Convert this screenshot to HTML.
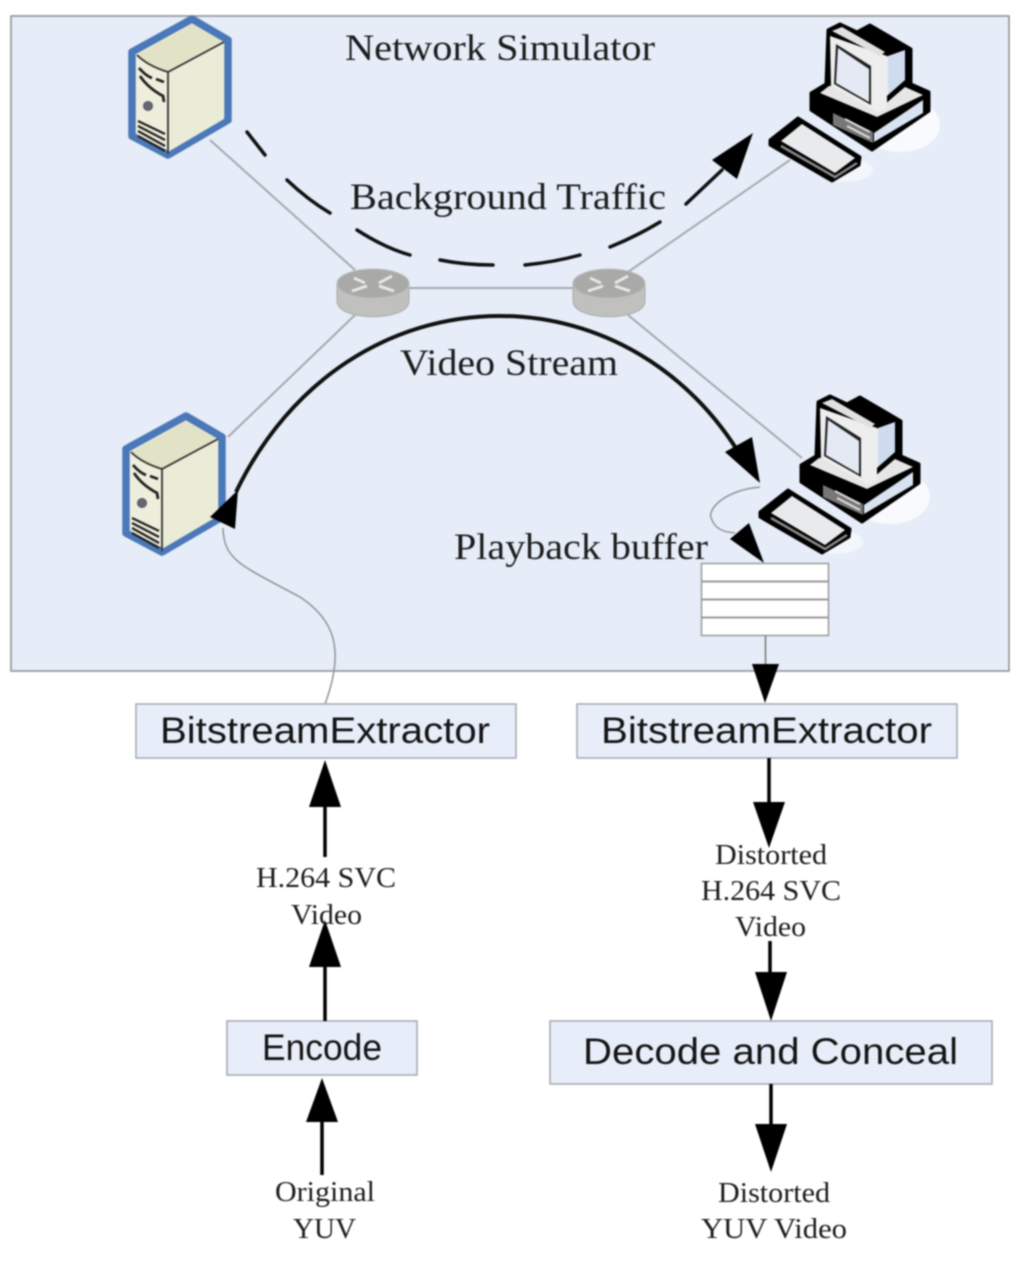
<!DOCTYPE html>
<html><head><meta charset="utf-8"><style>
html,body{margin:0;padding:0;background:#fff}
svg{display:block;filter:blur(.8px)}
.s{font-family:"Liberation Serif",serif;fill:#1c1c1c}
.a{font-family:"Liberation Sans",sans-serif;fill:#141414}
</style></head><body>
<svg width="1024" height="1263" viewBox="0 0 1024 1263" xmlns="http://www.w3.org/2000/svg">
<defs>
<g id="server">
<path d="M64 3 L100 24 V104 L40 139 L4 120 V36 Z" fill="#eeeedd" stroke="#4b78b8" stroke-width="7.500" stroke-linejoin="round"/>
<path d="M9 39 L64 8 L96 26 L40 56 Q20 50 9 39Z" fill="#e2e3c6"/>
<path d="M40 56 V136 L96 103 V27Z" fill="#ebecd8"/>
<path d="M9 39 Q20 50 40 56 L96 26 M40 56 V138" fill="none" stroke="#333" stroke-width="1.800"/>
<path d="M11 52 Q18 60 24 62 M28 63 L36 66 M12 60 Q20 72 35 80 L36 86" fill="none" stroke="#222" stroke-width="2.800"/>
<circle cx="20" cy="90" r="4.500" fill="#667" stroke="#555"/>
<path d="M10 105 L37 118 M10 110 L37 124 M10 115 L37 130 M10 120 L37 135" stroke="#222" stroke-width="2.300"/>
</g>
<g id="pc">
<ellipse cx="900" cy="125" rx="40" ry="27" fill="#f8fafd"/>
<ellipse cx="845" cy="170" rx="28" ry="12" fill="#f3f6fb"/>
<path d="M828 30 L840 24 L857 32 L870 25 L911 49 V84 L929 92 V111 L872 150 L811 110 V93 L826 84Z" fill="#000" stroke="#000" stroke-width="3" stroke-linejoin="round"/>
<path d="M770 140 L798 118 L860 157 L859 165 L832 181 L770 145Z" fill="#000" stroke="#000" stroke-width="3" stroke-linejoin="round"/>
<path d="M820 93 L877 117 L923 95 L905 87 L884 105 L840 85 L829 86Z" fill="#e6e6e6"/>
<path d="M874 133 L923 100 V113 L874 142Z" fill="#d8e2f0"/>
<path d="M833 113 L873 132 V143 L833 125Z" fill="#777"/>
<path d="M845 119 L870 132 M847 126 L870 138" stroke="#ddd" stroke-width="2"/>
<path d="M830 36 L887 56 V108 L877 112 L831 86Z" fill="#eee"/>
<path d="M836 44 L871 66 V105 L834 84Z" fill="#222"/>
<path d="M838 48 L869 69 V102 L836 83Z" fill="#e4e9f4"/>
<path d="M888 56 L905 50 V80 L888 95Z" fill="#cfdcf0"/>
<path d="M873 66 L888 56 V95 L876 106Z" fill="#eee"/>
<path d="M832 31 L842 27 L885 52 L880 56Z" fill="#e0e0e0"/>
<path d="M781 141 L802 124 L855 158 L835 173Z" fill="#e8eaec"/>
<path d="M781 146 L835 177 L857 163" fill="none" stroke="#888" stroke-width="2.500"/>
</g>
<g id="router">
<path d="M0 14 V32 C0 53 72 53 72 32 V14Z" fill="#c0c0be" stroke="#aaa"/>
<ellipse cx="36" cy="14.500" rx="36" ry="14.500" fill="#a9a9a7" stroke="#bbb"/>
<path d="M17 9 L28 14 M55 7 L42 14 M15 22 L30 17 M57 22 L42 17" stroke="#e8e8e4" stroke-width="2.800"/>
</g>
</defs>

<rect x="11" y="16" width="998" height="655" fill="#e6edf8" stroke="#8c8c8c" stroke-width="1.500"/>

<g stroke="#a5a9b0" stroke-width="2" fill="none">
<path d="M210 140 L355 270"/>
<path d="M228 437 L355 315"/>
<path d="M409 288 H573"/>
<path d="M628 272 L790 160"/>
<path d="M628 315 L802 458"/>
</g>

<use href="#server" x="128" y="16"/>
<use href="#server" x="122" y="413"/>
<use href="#pc"/>
<use href="#pc" x="-10" y="372"/>
<use href="#router" x="337" y="269"/>
<use href="#router" x="573" y="269"/>

<g fill="none" stroke="#111" stroke-width="3.500" stroke-linecap="round">
<path d="M247 132 L265 155"/>
<path d="M287 180 Q308 200 330 213"/>
<path d="M357 230 Q385 248 410 255"/>
<path d="M440 260 Q465 265 493 265"/>
<path d="M525 265 Q555 262 580 255"/>
<path d="M610 247 Q637 236 660 222"/>
<path d="M686 204 L722 170"/>
</g>
<polygon points="753,133 737,179 712,160" fill="#000"/>

<path d="M236 492 C290 380 390 316 500 316 C600 316 690 370 742 458" fill="none" stroke="#111" stroke-width="4"/>
<polygon points="760,483 752,437 725,452" fill="#000"/>
<polygon points="210,517 238,490 235,529" fill="#000"/>

<path d="M760 487 C725 490 705 510 712 520 C716 530 725 532 735 533" fill="none" stroke="#8f949a" stroke-width="1.500"/>
<polygon points="764,563 749,523 730,539" fill="#000"/>
<path d="M223 528 C224 560 240 565 300 597 C335 620 345 650 325 704" fill="none" stroke="#8f949a" stroke-width="1.500"/>

<rect x="701.500" y="563.500" width="127" height="72" fill="#fff" stroke="#999" stroke-width="1.500"/>
<path d="M702 581.500 H828 M702 599.500 H828 M702 617.500 H828" stroke="#999" stroke-width="2"/>
<path d="M765.500 636 V668" stroke="#777" stroke-width="1.500"/>

<g fill="#e8eef9" stroke="#a3a8b0" stroke-width="1.500">
<rect x="136" y="704" width="380" height="54"/>
<rect x="577" y="704" width="380" height="54"/>
<rect x="227" y="1021" width="190" height="54"/>
<rect x="550" y="1021" width="442" height="63"/>
</g>

<g stroke="#000" stroke-width="3.500" fill="none">
<path d="M325 800 V857"/>
<path d="M325 960 V1021"/>
<path d="M322 1118 V1175"/>
<path d="M769 758 V810"/>
<path d="M770 941 V980"/>
<path d="M771 1084 V1130"/>
</g>
<g fill="#000">
<polygon points="325,760 309,807 341,807"/>
<polygon points="325,920 309,967 341,967"/>
<polygon points="322,1078 306,1122 338,1122"/>
<polygon points="765,703 752,664 779,664"/>
<polygon points="769,848 753,802 785,802"/>
<polygon points="771,1021 755,972 787,972"/>
<polygon points="771,1172 755,1124 787,1124"/>
</g>

<g class="s">
<text x="345" y="60" font-size="37" textLength="310" lengthAdjust="spacingAndGlyphs">Network Simulator</text>
<text x="350" y="209" font-size="37" textLength="316" lengthAdjust="spacingAndGlyphs">Background Traffic</text>
<text x="400" y="375" font-size="37" textLength="218" lengthAdjust="spacingAndGlyphs">Video Stream</text>
<text x="454" y="559" font-size="37" textLength="254" lengthAdjust="spacingAndGlyphs">Playback buffer</text>
<text x="256" y="887" font-size="28" textLength="140" lengthAdjust="spacingAndGlyphs">H.264 SVC</text>
<text x="291" y="924" font-size="28" textLength="71" lengthAdjust="spacingAndGlyphs">Video</text>
<text x="275" y="1201" font-size="28" textLength="100" lengthAdjust="spacingAndGlyphs">Original</text>
<text x="293" y="1238" font-size="28" textLength="63" lengthAdjust="spacingAndGlyphs">YUV</text>
<text x="715" y="864" font-size="28" textLength="112" lengthAdjust="spacingAndGlyphs">Distorted</text>
<text x="701" y="900" font-size="28" textLength="140" lengthAdjust="spacingAndGlyphs">H.264 SVC</text>
<text x="735" y="936" font-size="28" textLength="71" lengthAdjust="spacingAndGlyphs">Video</text>
<text x="718" y="1202" font-size="28" textLength="112" lengthAdjust="spacingAndGlyphs">Distorted</text>
<text x="701" y="1238" font-size="28" textLength="146" lengthAdjust="spacingAndGlyphs">YUV Video</text>
</g>
<g class="a">
<text x="160" y="743" font-size="37" textLength="330" lengthAdjust="spacingAndGlyphs">BitstreamExtractor</text>
<text x="601" y="743" font-size="37" textLength="331" lengthAdjust="spacingAndGlyphs">BitstreamExtractor</text>
<text x="262" y="1060" font-size="37" textLength="120" lengthAdjust="spacingAndGlyphs">Encode</text>
<text x="583" y="1064" font-size="37" textLength="375" lengthAdjust="spacingAndGlyphs">Decode and Conceal</text>
</g>
</svg>
</body></html>
